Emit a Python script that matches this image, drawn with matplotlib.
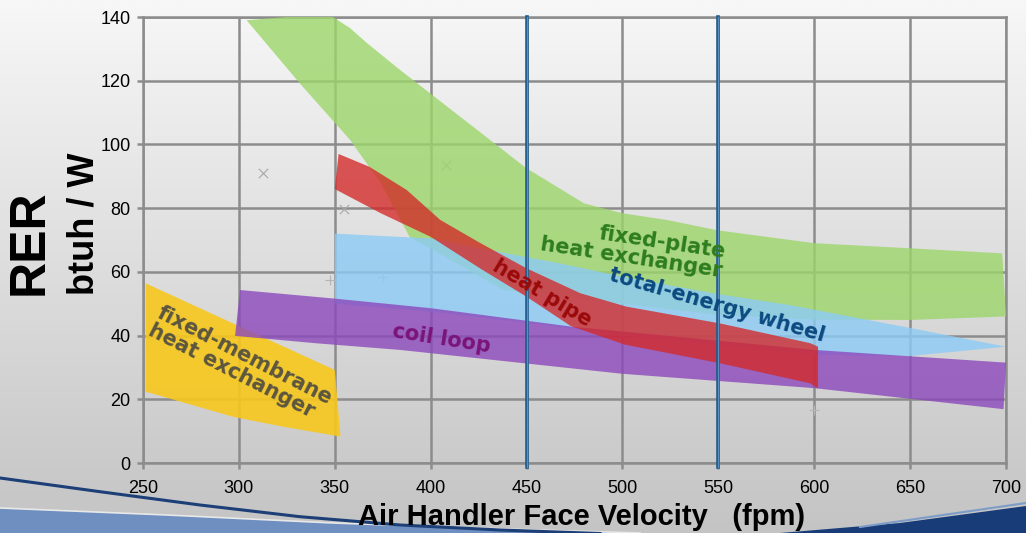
import numpy as np
import matplotlib
matplotlib.use('Agg')
import matplotlib.pyplot as plt

# axis ticks
x_ticks = [250, 300, 350, 400, 450, 500, 550, 600, 650, 700]
y_ticks = [0, 20, 40, 60, 80, 100, 120, 140]
highlight_x = [450, 550]

# fixed-plate heat exchanger band
plate_top_x = [304, 325, 349, 358, 367, 384, 450, 480, 500, 523, 550, 600, 650, 698]
plate_top_y = [139, 140, 140, 136.5, 131.7, 123.4, 92.5, 81.5, 78.4, 76.3, 73, 69, 67.4, 65.8]
plate_bot_x = [304, 332, 358, 374, 389, 438, 450, 500, 550, 600, 650, 700]
plate_bot_y = [139, 119, 101.4, 87.8, 71, 54.3, 53.5, 50, 46.5, 45, 44.9, 46]

# heat pipe band
pipe_top_x = [352, 368, 387.5, 405, 426, 450, 478, 502, 551, 598, 602]
pipe_top_y = [97, 93, 85.7, 76.3, 69, 61.1, 53.3, 49.1, 43.8, 37.6, 36.5]
pipe_bot_x = [350, 374, 400, 426, 450, 473, 501, 551, 598, 602]
pipe_bot_y = [86, 78.4, 71, 61, 52.2, 43, 37.2, 31.3, 25, 23.4]

# total-energy wheel band
wheel_top_x = [350, 400, 438, 467, 500, 550, 587, 650, 700]
wheel_top_y = [72, 70.5, 66, 62.7, 58.5, 53, 49.6, 42.4, 36.5]
wheel_bot_x = [350, 400, 450, 500, 550, 600, 650, 700]
wheel_bot_y = [50, 47.5, 44, 40, 37, 34, 33.6, 36.5]

# coil loop band
coil_top_x = [300.6, 350, 400, 473.5, 600, 700]
coil_top_y = [54.3, 51.6, 48.6, 42.8, 35.5, 31.5]
coil_bot_x = [298, 340, 384, 500, 600, 698.7]
coil_bot_y = [39.9, 37.6, 35.5, 28, 23.5, 16.9]

# fixed-membrane heat exchanger band
membrane_top_x = [251.4, 297, 350]
membrane_top_y = [56.4, 43.8, 29.2]
membrane_bot_x = [251.4, 297, 323, 353]
membrane_bot_y = [22.4, 14.5, 11.4, 8.3]

# faint leftover markers
cross_x = [312.6, 355, 408]
cross_y = [91, 79.7, 93.5]
plus_x = [347.5, 375, 600]
plus_y = [57.4, 58.5, 16.6]


def band(ax, tx, ty, bx, by, color, alpha, z):
    xs = list(tx) + list(bx)[::-1]
    ys = list(ty) + list(by)[::-1]
    ax.fill(xs, ys, color=color, alpha=alpha, lw=0, zorder=z)


W, H = 1026, 533
fig = plt.figure(figsize=(W / 100, H / 100), dpi=100)

# background gradient + bottom swoosh
bg = fig.add_axes([0, 0, 1, 1], zorder=-10)
t = np.linspace(0, 1, 256)[:, None, None]
c0 = np.array([247, 247, 247]) / 255
c1 = np.array([196, 196, 196]) / 255
bg.imshow(c0 + (c1 - c0) * t, aspect='auto', extent=[0, W, H, 0])
light_x = [0, 167, 333, 520, 640]
light_y = [508, 515, 523, 529.5, 533]
bg.fill(light_x + [0], light_y + [H], color='#6f8fc0', lw=0)
bg.plot(light_x, light_y, color='#e8e8e8', lw=1.2)
navy_x = [0, 100, 200, 300, 400, 500, 600]
navy_y = [478, 491.7, 505, 516.7, 525, 530, 533.5]
bg.plot(navy_x, navy_y, color='#1c3f78', lw=2.2)
right_x = [780, 900, 1026, 1026]
right_y = [533, 523, 506, 533]
bg.fill(right_x, right_y, color='#183c78', lw=0)
bg.plot([860, 950, 1026], [527, 514, 503], color='#7d9cc8', lw=1.5)
bg.set_xlim(0, W)
bg.set_ylim(H, 0)
bg.axis('off')

ax = fig.add_axes([143 / W, 70 / H, 863 / W, 446 / H])
ax.patch.set_alpha(0)
ax.set_xlim(250, 700)
ax.set_ylim(0, 140)
ax.set_xticks(x_ticks)
ax.set_yticks(y_ticks)
ax.set_axisbelow(True)
grid_c = '#8c8c8c'
ax.grid(True, color=grid_c, lw=1.8)
for s in ax.spines.values():
    s.set_color(grid_c)
    s.set_linewidth(1.8)
ax.tick_params(length=4, width=1.8, color=grid_c, labelsize=13, pad=5)
ax.tick_params(axis='x', pad=8.5)
for lab in ax.get_xticklabels() + ax.get_yticklabels():
    lab.set_family('Liberation Sans')

ax.scatter(cross_x, cross_y, marker='x', s=45, color='#a8a8a8', lw=0.8, zorder=1)
ax.scatter(plus_x, plus_y, marker='+', s=45, color='#b4b4b4', lw=0.8, zorder=1)

band(ax, membrane_top_x, membrane_top_y, membrane_bot_x, membrane_bot_y, '#f7c81c', 0.9, 2)
band(ax, plate_top_x, plate_top_y, plate_bot_x, plate_bot_y, '#9dd66a', 0.8, 3)
band(ax, wheel_top_x, wheel_top_y, wheel_bot_x, wheel_bot_y, '#8ccbf6', 0.8, 4)
band(ax, coil_top_x, coil_top_y, coil_bot_x, coil_bot_y, '#8c48bc', 0.8, 5)
band(ax, pipe_top_x, pipe_top_y, pipe_bot_x, pipe_bot_y, '#d42828', 0.78, 6)

for xv in highlight_x:
    ax.plot([xv, xv], [-1.3, 140], color='#1f5a8a', lw=2.6, clip_on=False, zorder=7)
    ax.plot([xv, xv], [-1.3, 140], color='#5a8fc0', lw=0.9, clip_on=False, zorder=7)

lab_kw = dict(family='DejaVu Sans', fontweight='bold', fontsize=15,
              ha='center', va='center', rotation_mode='anchor', zorder=8)
ax.text(505.5, 67.5, 'fixed-plate\nheat exchanger', color='#2e7d1e', rotation=-8.5,
        ma='right', linespacing=0.95, **lab_kw)
ax.text(458, 53.4, 'heat pipe', color='#9a0a0a', rotation=-31, **lab_kw)
ax.text(549.3, 49.6, 'total-energy wheel', color='#0b4a80', rotation=-16, **lab_kw)
ax.text(405.4, 38.9, 'coil loop', color='#7a1478', rotation=-9, **lab_kw)
ax.text(300.8, 30.9, 'fixed-membrane\nheat exchanger', color='#5c5640', rotation=-27,
        ma='left', linespacing=0.95, **lab_kw)

fig.text(0.0292, 1 - 295 / H, 'RER', rotation=90, ha='center', va='bottom',
         family='Liberation Sans', fontweight='bold', fontsize=36)
fig.text(0.0819, 1 - 295 / H, 'btuh / W', rotation=90, ha='center', va='bottom',
         family='Liberation Sans', fontweight='bold', fontsize=26)
fig.text(582 / W, 1 - 525 / H, 'Air Handler Face Velocity   (fpm)', ha='center',
         va='baseline', family='Liberation Sans', fontweight='bold', fontsize=21)

fig.savefig('out.png', dpi=100)
